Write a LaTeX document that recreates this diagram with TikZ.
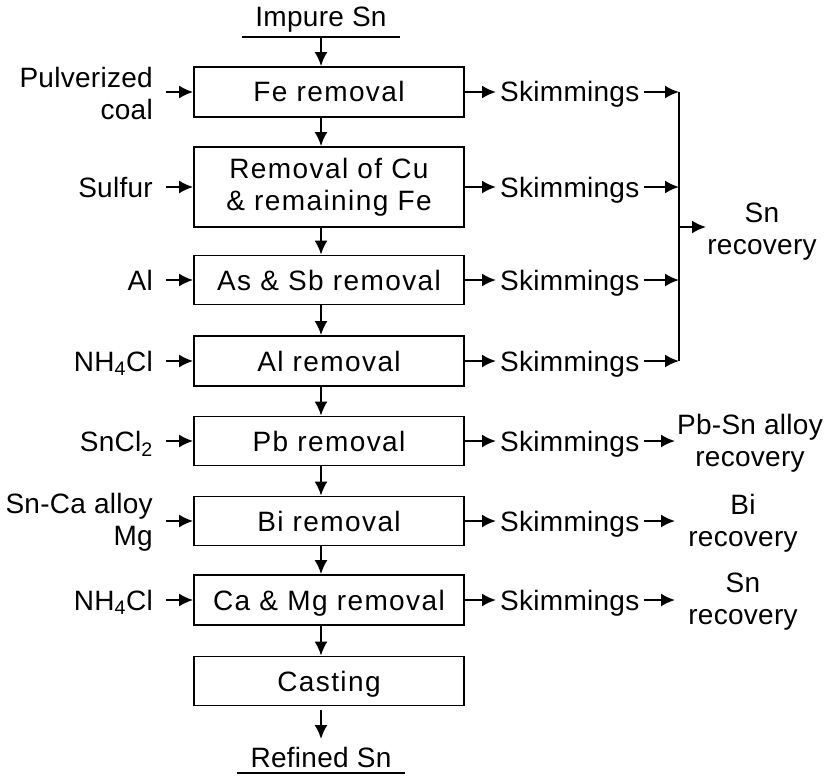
\documentclass[tikz,border=0pt]{standalone}
\usepackage{fontspec}
\setmainfont{Liberation Sans}[LetterSpace=1]
\newfontfamily\boxfont{Liberation Sans}[LetterSpace=5]
\usetikzlibrary{arrows.meta}
\begin{document}
\begin{tikzpicture}[x=1pt,y=-1pt,
  every node/.style={font=\fontsize{28}{32}\selectfont, inner sep=0pt},
  one/.style={text height=20pt, text depth=0pt},
  box/.style={draw, line width=1.8pt, minimum width=270pt, inner sep=0pt, align=center,
    font=\fontsize{28}{32}\selectfont\boxfont},
  arr/.style={line width=2pt, -{Latex[length=14pt,width=13pt]}},
  ln/.style={line width=2pt},
  lab/.style={align=right, anchor=east},
  rec/.style={align=center}]
\useasboundingbox (0,0) rectangle (830,781);
% main boxes
\node[box, one, minimum height=50pt] (b1) at (329,92) {Fe removal};
\node[box, minimum height=80pt] (b2) at (329,187) {Removal of Cu\\\& remaining Fe};
\node[box, one, minimum height=49pt] (b3) at (329,280) {As \& Sb removal};
\node[box, one, minimum height=50pt] (b4) at (329,361) {Al removal};
\node[box, one, minimum height=49pt] (b5) at (329,441) {Pb removal};
\node[box, one, minimum height=49pt] (b6) at (329,521) {Bi removal};
\node[box, one, minimum height=50pt] (b7) at (329,600) {Ca \& Mg removal};
\node[box, one, minimum height=49pt] (b8) at (329,681) {Casting};
\coordinate (ax) at (321,0);
% top and bottom
\node[one] (imp) at (321,17) {Impure Sn};
\coordinate (iml) at (242,37);
\coordinate (imr) at (400,37);
\coordinate (imc) at (321,37);
\draw[ln] (iml) -- (imr);
\draw[arr] (imc) -- (b1.north -| ax);
\node[one] (ref) at (321,757) {Refined Sn};
\coordinate (rfl) at (237,773);
\coordinate (rfr) at (405,773);
\coordinate (rft) at (321,710);
\coordinate (rfa) at (321,739);
\draw[ln] (rfl) -- (rfr);
\draw[arr] (rft) -- (rfa);
% vertical flow
\foreach \i/\j in {1/2,2/3,3/4,4/5,5/6,6/7,7/8}{
  \draw[arr] (b\i.south -| ax) -- (b\j.north -| ax);
}
% left inputs
\node[lab] (l1) at (153,93) {Pulverized\\coal};
\node[lab, one] (l2) at (153,187) {Sulfur};
\node[lab, one] (l3) at (153,280) {Al};
\node[lab, one] (l4) at (153,361) {NH\textsubscript{4}Cl};
\node[lab, one] (l5) at (153,441) {SnCl\textsubscript{2}};
\node[lab] (l6) at (153,522) {Sn-Ca alloy\\Mg};
\node[lab, one] (l7) at (153,600) {NH\textsubscript{4}Cl};
\coordinate (sx) at (166,0);
\foreach \i in {1,...,7}{
  \draw[arr] (sx |- b\i.west) -- (b\i.west);
}
% skimmings
\foreach \i in {1,...,7}{
  \node[one, anchor=west, inner xsep=4pt] (k\i) at (496,0 |- b\i.east) {Skimmings};
  \draw[arr] (b\i.east) -- (k\i.west);
}
% collector
\coordinate (jt) at (679,92);
\coordinate (jb) at (679,361);
\coordinate (jm) at (679,227);
\coordinate (jo) at (706,227);
\foreach \i in {1,...,4}{
  \draw[arr] (k\i.east) -- (k\i.east -| jt);
}
\draw[ln] (jt) -- (jb);
\draw[arr] (jm) -- (jo);
\node[rec] (r1) at (762,232) {Sn\\recovery};
% lower recoveries
\coordinate (e5) at (675,441);
\coordinate (e6) at (675,521);
\coordinate (e7) at (675,600);
\draw[arr] (k5.east) -- (e5);
\draw[arr] (k6.east) -- (e6);
\draw[arr] (k7.east) -- (e7);
\node[rec] (r5) at (750,443) {Pb-Sn alloy\\recovery};
\node[rec] (r6) at (743,523) {Bi\\recovery};
\node[rec] (r7) at (743,602) {Sn\\recovery};
\end{tikzpicture}
\end{document}
